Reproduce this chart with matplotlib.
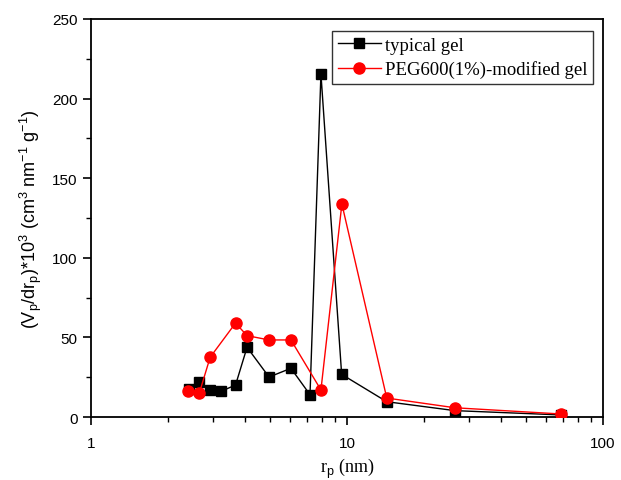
import matplotlib
matplotlib.use("Agg")
import matplotlib.pyplot as plt
from matplotlib.ticker import FixedLocator, FuncFormatter, MultipleLocator, LogLocator, NullFormatter

# Data
typical_r = [2.41, 2.64, 2.92, 3.22, 3.67, 4.07, 4.96, 6.04, 7.17, 7.91, 9.53, 14.3, 26.4, 68.4]
typical_v = [17.6, 21.8, 17.2, 16.1, 20.1, 43.8, 25.1, 30.6, 14.0, 215.5, 26.8, 9.6, 4.0, 1.3]
peg_r = [2.40, 2.65, 2.92, 3.67, 4.07, 4.96, 6.04, 7.91, 9.55, 14.3, 26.4, 68.4]
peg_v = [16.1, 15.1, 37.5, 59.0, 51.1, 48.4, 48.4, 17.0, 133.8, 11.9, 5.8, 1.9]
labels = ["typical gel", "PEG600(1%)-modified gel"]

plt.rcParams['font.family'] = ['Liberation Sans', 'DejaVu Sans']
plt.rcParams['mathtext.fontset'] = 'custom'
plt.rcParams['mathtext.rm'] = 'Liberation Sans'
plt.rcParams['mathtext.it'] = 'Liberation Sans:italic'

fig = plt.figure(figsize=(6.21, 4.81), dpi=100)
ax = fig.add_axes([91/621, 1-418/481, (603-91)/621, (418-20)/481])

ax.plot(typical_r, typical_v, color='black', lw=1.0, marker='s', ms=7,
        mfc='black', mec='black', label=labels[0], zorder=3)
ax.plot(peg_r, peg_v, color='#ff0000', lw=1.0, marker='o', ms=8,
        mfc='#ff0000', mec='#ff0000', label=labels[1], zorder=4)

ax.set_xscale('log')
ax.set_xlim(1, 100)
ax.set_ylim(0, 250)
ax.xaxis.set_major_locator(FixedLocator([1, 10, 100]))
ax.xaxis.set_major_formatter(FuncFormatter(lambda v, p: f"{v:g}"))
ax.xaxis.set_minor_locator(LogLocator(base=10, subs=range(2, 10)))
ax.xaxis.set_minor_formatter(NullFormatter())
ax.yaxis.set_major_locator(MultipleLocator(50))
ax.yaxis.set_minor_locator(MultipleLocator(25))

ax.tick_params(which='major', direction='out', length=6, width=1.2, labelsize=11, top=False, right=False)
ax.tick_params(which='minor', direction='out', length=3.5, width=1.0, top=False, right=False)
ax.tick_params(axis='x', which='major', pad=8)
for s in ax.spines.values():
    s.set_linewidth(1.3)

ax.set_ylabel(r'(V$_\mathrm{p}$/dr$_\mathrm{p}$)*10$^3$ (cm$^3$ nm$^{-1}$ g$^{-1}$)', fontsize=13, labelpad=6)
ax.set_xlabel(r'r$_\mathrm{p}$ (nm)', fontsize=13, family='Liberation Serif', labelpad=4)

leg = ax.legend(loc='upper right', bbox_to_anchor=(0.980, 0.970), borderaxespad=0,
                frameon=True, fancybox=False,
                edgecolor='black', prop={'family': 'Liberation Serif', 'size': 13.5},
                handlelength=2.3, borderpad=0.3, labelspacing=0.35, handletextpad=0.2,
                markerscale=1.0)
leg.get_frame().set_linewidth(1.0)

fig.savefig('out.png', dpi=100, facecolor='white')
